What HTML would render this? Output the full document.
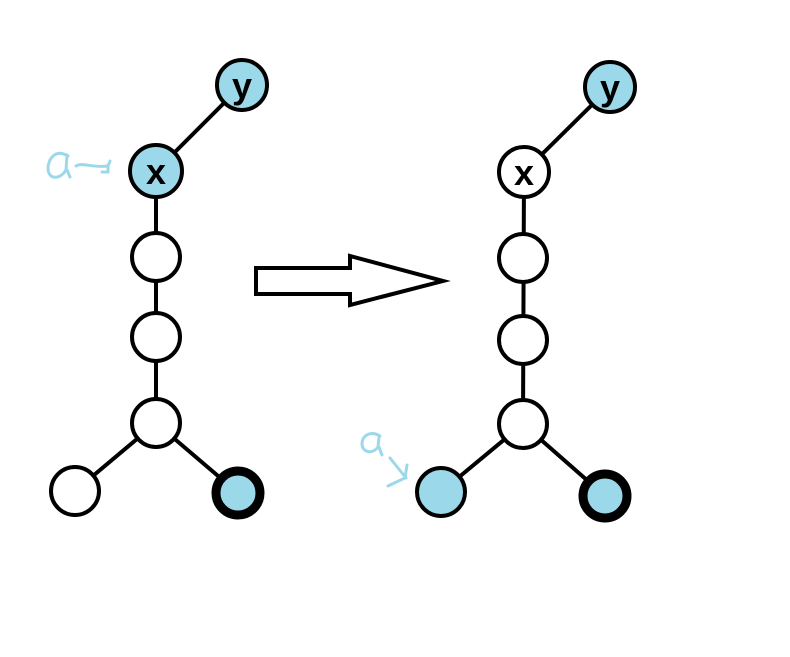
<!DOCTYPE html>
<html><head><style>body{margin:0;background:#fff}</style></head><body>
<svg width="790" height="652" viewBox="0 0 790 652" xmlns="http://www.w3.org/2000/svg">
<rect width="790" height="652" fill="#fff"/>
<g stroke="#000" stroke-width="4" fill="none" stroke-linecap="round">
<line x1="242" y1="85" x2="156" y2="171"/>
<line x1="156" y1="171" x2="156" y2="423"/>
<line x1="156" y1="423" x2="75" y2="491"/>
<line x1="156" y1="423" x2="238" y2="493"/>
<line x1="610" y1="87" x2="524" y2="172"/>
<line x1="524" y1="172" x2="523" y2="424"/>
<line x1="523" y1="424" x2="441" y2="492"/>
<line x1="523" y1="424" x2="605" y2="496"/>
</g>
<g stroke="#000" stroke-width="4">
<circle cx="242" cy="85" r="25" fill="#9bd9ea"/>
<circle cx="156" cy="171" r="26" fill="#9bd9ea"/>
<circle cx="156" cy="257" r="24" fill="#fff"/>
<circle cx="156" cy="337" r="24" fill="#fff"/>
<circle cx="156" cy="423" r="24" fill="#fff"/>
<circle cx="75" cy="491" r="24" fill="#fff"/>
<circle cx="238" cy="493" r="22" fill="#9bd9ea" stroke-width="9"/>
<circle cx="610" cy="87" r="25" fill="#9bd9ea"/>
<circle cx="524" cy="172" r="25" fill="#fff"/>
<circle cx="523" cy="258" r="24" fill="#fff"/>
<circle cx="523" cy="340" r="24" fill="#fff"/>
<circle cx="523" cy="424" r="24" fill="#fff"/>
<circle cx="441" cy="492" r="24" fill="#9bd9ea"/>
<circle cx="605" cy="496" r="22" fill="#9bd9ea" stroke-width="9"/>
</g>
<polygon points="256,268 350,268 350,256 443,281 350,305 350,294 256,294" fill="#fff" stroke="#000" stroke-width="4" stroke-linejoin="miter"/>
<g font-family="Liberation Sans, sans-serif" font-size="36" font-weight="bold" text-anchor="middle">
<text x="242" y="98">y</text>
<text x="156" y="184">x</text>
<text x="610" y="100">y</text>
<text x="524" y="185">x</text>
</g>
<g fill="none" stroke="#9bd9ea" stroke-width="3" stroke-linecap="round">
<path d="M68 156 C55 148 48 160 48 168 C48 180 60 180 66 170 L67 155 M67 170 L70 177"/>
<path d="M76 166 C82 162 92 168 108 166 L110 161 M108 166 L108 172 L102 172"/>
<path d="M380 436 C370 430 362 436 362 444 C362 452 372 455 378 447 L379 437 M379 447 L382 455"/>
<path d="M390 458 L406 478 M407 465 L405 478 L388 486"/>
</g>
</svg>
</body></html>
